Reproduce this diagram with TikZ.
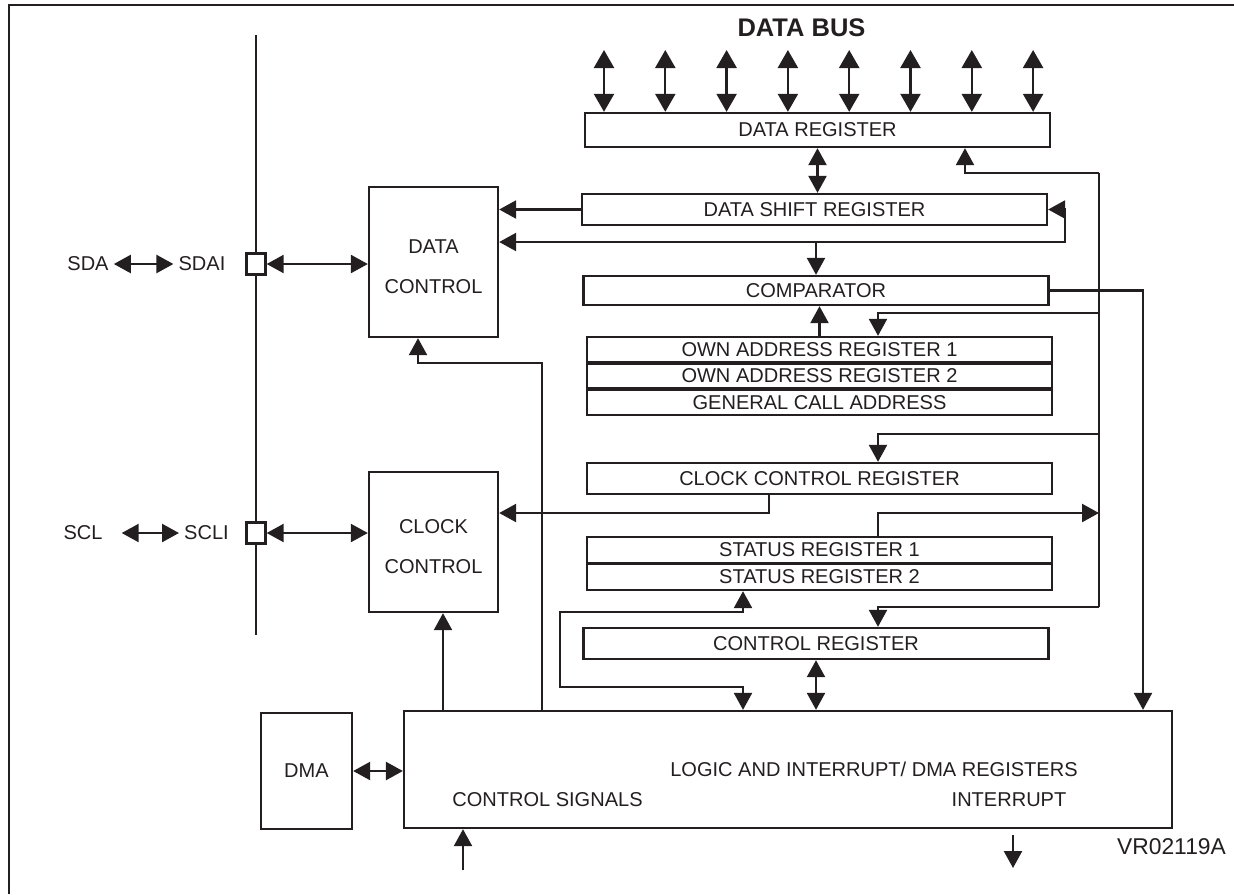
\documentclass[tikz,border=0pt]{standalone}
\usepackage{fontspec}
\setmainfont{Liberation Sans}
\usetikzlibrary{arrows.meta}
\definecolor{ink}{RGB}{35,31,32}

\begin{document}
\begin{tikzpicture}[x=0.02cm, y=-0.02cm, line width=1.35pt, color=ink,
    reg/.style={draw, fill=white, minimum width=9.3cm, inner sep=0pt, font=\fontsize{11.4}{13}\selectfont},
    block/.style={draw, fill=white, align=center, inner sep=0pt, font=\fontsize{11.4}{22.8}\selectfont},
    pin/.style={draw, fill=white, minimum width=0.38cm, minimum height=0.42cm, inner sep=0pt},
    lbl/.style={inner sep=2.3pt, font=\fontsize{11.4}{13}\selectfont},
    sig/.style={-{Triangle[length=0.34cm, width=0.36cm]}},
    bidir/.style={{Triangle[length=0.34cm, width=0.36cm]}-{Triangle[length=0.34cm, width=0.36cm]}},
    busarr/.style={{Triangle[length=0.36cm, width=0.4cm]}-{Triangle[length=0.36cm, width=0.4cm]}}]

        \useasboundingbox (0,0) rectangle (1234,894);

        % Frame (only top and left edges show)
        \draw[line width=1.6pt] (9,894) -- (9,5) -- (1234,5);

        % Registers
        \node (datareg) [reg, minimum height=0.68cm] at (817.5,130) {DATA REGISTER};
        \node (dsr) [reg, minimum height=0.62cm] at (814.5,209.5) {DATA SHIFT REGISTER};
        \node (comp) [reg, minimum height=0.58cm] at (816,290.5) {COMPARATOR};
        \node (oar1) [reg, minimum height=0.5cm] at (819.5,349.5) {OWN ADDRESS REGISTER 1};
        \node (oar2) [reg, minimum height=0.5cm] at (819.5,376) {OWN ADDRESS REGISTER 2};
        \node (gca) [reg, minimum height=0.5cm] at (819.5,402.5) {GENERAL CALL ADDRESS};
        \node (ccr) [reg, minimum height=0.62cm] at (819.5,478.5) {CLOCK CONTROL REGISTER};
        \node (sr1) [reg, minimum height=0.52cm] at (819.5,550) {STATUS REGISTER 1};
        \node (sr2) [reg, minimum height=0.52cm] at (819.5,577) {STATUS REGISTER 2};
        \node (ctrl) [reg, minimum height=0.62cm] at (816,643.5) {CONTROL REGISTER};

        % Control blocks
        \node (dc) [block, minimum width=2.58cm, minimum height=3cm] at (433.5,262) {\\[-10pt]DATA\\CONTROL};
        \node (cc) [block, minimum width=2.58cm, minimum height=2.8cm] at (433.5,542) {\\[-10pt]CLOCK\\CONTROL};
        \node (dma) [block, minimum width=1.82cm, minimum height=2.32cm] at (306.5,771) {DMA};
        \node (logic) [block, minimum width=15.36cm, minimum height=2.34cm] at (788,769.5) {};

        % Texts inside the logic block
        \node (logictxt) [lbl] at (874,769) {LOGIC AND INTERRUPT/ DMA REGISTERS};
        \node (ctrlsig) [lbl] at (547.5,800) {CONTROL SIGNALS};
        \node (inttxt) [lbl] at (1009,800) {INTERRUPT};
        \node (ref) [lbl, font=\fontsize{13}{15}\selectfont] at (1171.5,847) {VR02119A};
        \node (bus) [lbl, font=\fontsize{14.5}{17}\selectfont\bfseries] at (801.5,28) {DATA BUS};

        % Number of data bus lines
        \def\nbits{8}

        % Distance between data bus lines
        \def\bitstep{61.3}

        % Data bus into the data register
        \foreach \i in {1,...,\nbits} {
          \coordinate (bit\i) at ({604+(\i-1)*\bitstep}, 50);
          \draw[busarr] (bit\i) -- (bit\i |- datareg.north);
        }

        % Data register <-> shift register -> data control
        \draw[bidir] (datareg.south) -- (datareg.south |- dsr.north);
        \draw[sig] (dsr.west) -- (dsr.west -| dc.east);
        \coordinate (shloop) at (1065,242);
        \draw[bidir] (shloop -| dc.east) -- (shloop) |- (dsr.east);
        \draw[sig] (comp.north |- shloop) -- (comp.north);
        \draw[sig] (oar1.north) -- (oar1.north |- comp.south);

        % Comparator to logic
        \coordinate (cmpout) at (1143,290.5);
        \draw[sig] (comp.east) -- (cmpout) -- (cmpout |- logic.north);

        % Internal bus on the right
        \coordinate (rbus1) at (1099,173);
        \coordinate (rbus2) at (1099,313);
        \coordinate (rbus3) at (1099,434);
        \coordinate (rbus4) at (1099,513);
        \coordinate (rbus5) at (1099,607);
        \coordinate (drin) at (965,173);
        \coordinate (tapx) at (878,300);
        \draw (rbus1) -- (rbus5);
        \draw[sig] (rbus1) -- (drin) -- (drin |- datareg.south);
        \draw[sig] (rbus2) -| (oar1.north -| tapx);
        \draw[sig] (rbus3) -| (ccr.north -| tapx);
        \draw[sig] (sr1.north -| tapx) |- (rbus4);
        \draw[sig] (rbus5) -| (ctrl.north -| tapx);

        % Clock control register to clock control
        \coordinate (ccrout) at (769,513);
        \draw[sig] (ccrout |- ccr.south) -- (ccrout) -- (ccrout -| cc.east);

        % Status register <-> logic
        \coordinate (stx) at (743,650);
        \coordinate (stl1) at (560,612);
        \coordinate (stl2) at (560,687);
        \draw[bidir] (stx |- sr2.south) -- (stx |- stl1) -- (stl1) -- (stl2) -- (stx |- stl2) -- (stx |- logic.north);

        % Control register <-> logic
        \draw[bidir] (ctrl.south) -- (ctrl.south |- logic.north);

        % Logic to data control and clock control
        \coordinate (dcbend) at (542,363);
        \coordinate (dcin) at (418,363);
        \draw[sig] (dcbend |- logic.north) -- (dcbend) -- (dcin) -- (dcin |- dc.south);
        \coordinate (ccin) at (443,650);
        \draw[sig] (ccin |- logic.north) -- (ccin |- cc.south);

        % DMA <-> logic
        \draw[bidir] (dma.east) -- (dma.east -| logic.west);

        % Control signals in, interrupt out
        \coordinate (csin) at (463,870);
        \draw[sig] (csin) -- (csin |- logic.south);
        \coordinate (intout) at (1013,868);
        \draw[sig, shorten <=0.12cm] (intout |- logic.south) -- (intout);

        % Serial lines
        \coordinate (ltop) at (256,35);
        \coordinate (lbot) at (256,635);
        \draw (ltop) -- (lbot);
        \node (sdapin) [pin] at (256,264) {};
        \node (sclpin) [pin] at (256,533) {};
        \draw[bidir] (sdapin.east) -- (sdapin.east -| dc.west);
        \draw[bidir] (sclpin.east) -- (sclpin.east -| cc.west);

        \node (sda) [lbl] at (88,264) {SDA};
        \node (sdai) [lbl] at (202,264) {SDAI};
        \draw[bidir] (sda.east) -- (sdai.west);
        \node (scl) [lbl] at (83,533) {SCL};
        \node (scli) [lbl] at (206.5,533) {SCLI};
        \draw[bidir, shorten <=0.28cm] (scl.east) -- (scli.west);

      \end{tikzpicture}
\end{document}
